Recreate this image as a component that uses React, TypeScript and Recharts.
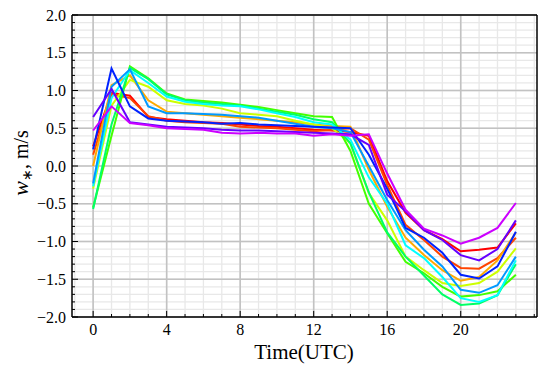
import { LineChart, Line, XAxis, YAxis, CartesianGrid, ReferenceLine, Label } from 'recharts'

const hours = [0, 1, 2, 3, 4, 5, 6, 7, 8, 9, 10, 11, 12, 13, 14, 15, 16, 17, 18, 19, 20, 21, 22, 23]

const seriesNames = ['s1', 's2', 's3', 's4', 's5', 's6', 's7', 's8', 's9', 's10', 's11']

const colors = [
  '#ff0000',
  '#ff4400',
  '#ffaa00',
  '#ccff00',
  '#44ff00',
  '#00ff66',
  '#00ffff',
  '#0099ff',
  '#0022ff',
  '#6600ff',
  '#cc00ff',
]

const s1 = [0.26, 0.97, 0.93, 0.65, 0.62, 0.6, 0.58, 0.57, 0.55, 0.53, 0.52, 0.5, 0.48, 0.47, 0.45, 0.4, -0.2, -0.62, -0.85, -0.97, -1.13, -1.11, -1.08, -0.76]
const s2 = [0.15, 0.95, 0.9, 0.66, 0.6, 0.58, 0.57, 0.56, 0.52, 0.51, 0.5, 0.48, 0.46, 0.48, 0.5, 0.35, -0.25, -0.78, -0.98, -1.2, -1.35, -1.36, -1.22, -0.95]
const s3 = [0.0, 1.07, 1.2, 0.87, 0.72, 0.7, 0.68, 0.66, 0.64, 0.62, 0.6, 0.58, 0.55, 0.53, 0.52, -0.05, -0.54, -0.95, -1.18, -1.38, -1.52, -1.47, -1.25, -0.88]
const s4 = [-0.3, 0.8, 1.14, 1.05, 0.87, 0.82, 0.8, 0.76, 0.7, 0.68, 0.66, 0.6, 0.55, 0.5, 0.3, -0.36, -0.72, -1.2, -1.38, -1.55, -1.59, -1.55, -1.4, -1.09]
const s5 = [-0.55, 0.4, 1.32, 1.16, 0.96, 0.88, 0.86, 0.84, 0.81, 0.78, 0.74, 0.7, 0.66, 0.65, 0.2, -0.5, -0.89, -1.27, -1.42, -1.6, -1.73, -1.71, -1.66, -1.44]
const s6 = [-0.57, 0.55, 1.3, 1.15, 0.95, 0.87, 0.84, 0.82, 0.8, 0.76, 0.72, 0.68, 0.62, 0.58, 0.3, -0.35, -0.88, -1.2, -1.45, -1.7, -1.84, -1.82, -1.71, -1.3]
const s7 = [-0.27, 0.9, 1.27, 1.1, 0.92, 0.85, 0.82, 0.8, 0.79, 0.75, 0.7, 0.65, 0.58, 0.55, 0.35, -0.15, -0.5, -1.05, -1.22, -1.47, -1.75, -1.8, -1.71, -1.25]
const s8 = [-0.23, 1.05, 1.28, 0.79, 0.7, 0.7, 0.69, 0.68, 0.66, 0.64, 0.6, 0.56, 0.52, 0.5, 0.45, 0.0, -0.45, -0.85, -1.11, -1.33, -1.64, -1.68, -1.58, -1.2]
const s9 = [0.22, 1.29, 0.79, 0.63, 0.6, 0.59, 0.58, 0.56, 0.57, 0.55, 0.54, 0.53, 0.52, 0.51, 0.5, 0.15, -0.3, -0.82, -0.95, -1.15, -1.44, -1.49, -1.33, -0.87]
const s10 = [0.65, 1.02, 0.58, 0.55, 0.52, 0.51, 0.5, 0.48, 0.47, 0.47, 0.46, 0.45, 0.44, 0.43, 0.42, 0.28, -0.38, -0.6, -0.85, -0.98, -1.18, -1.25, -1.1, -0.72]
const s11 = [0.47, 0.79, 0.57, 0.54, 0.5, 0.49, 0.48, 0.44, 0.43, 0.44, 0.43, 0.43, 0.4, 0.42, 0.4, 0.42, -0.1, -0.58, -0.83, -0.92, -1.03, -0.95, -0.82, -0.49]

const allSeries = [s1, s2, s3, s4, s5, s6, s7, s8, s9, s10, s11]

const xTicks = [0, 1, 2, 3, 4, 5, 6, 7, 8, 9, 10, 11, 12, 13, 14, 15, 16, 17, 18, 19, 20, 21, 22, 23, 24]
const xMajor = [0, 4, 8, 12, 16, 20]
const yTicks = Array.from({ length: 41 }, (_, i) => Math.round((-2 + i * 0.1) * 10) / 10)
const yMajor = [-2, -1.5, -1, -0.5, 0, 0.5, 1, 1.5, 2]
const xMinorGrid = [-1, ...xTicks]

const data = hours.map((h, i) => {
  const row: any = { h }
  seriesNames.forEach((n, k) => {
    row[n] = allSeries[k][i]
  })
  return row
})

const FONT = '"Liberation Serif", "Times New Roman", serif'
const textStyle = { fontFamily: FONT }

const renderXTick = ({ x, y, payload }: any) => {
  const major = xMajor.includes(payload.value)
  return (
    <g key={`xt-${payload.value}`}>
      <line x1={x} x2={x} y1={y} y2={y - (major ? 6 : 3)} stroke="#000" strokeWidth={1} />
      {major && (
        <text x={x} y={y + 18} textAnchor="middle" fontSize={16} fontFamily={FONT} style={textStyle} fill="#000">
          {String(payload.value)}
        </text>
      )}
    </g>
  )
}

const renderYTick = ({ x, y, payload }: any) => {
  const major = Math.round(payload.value * 10) % 5 === 0
  const label = payload.value.toFixed(1).replace('-', '\u2212')
  return (
    <g key={`yt-${payload.value}`}>
      <line x1={x} x2={x + (major ? 6 : 3)} y1={y} y2={y} stroke="#000" strokeWidth={1} />
      {major && (
        <text x={x - 6} y={y + 5.5} textAnchor="end" fontSize={16} fontFamily={FONT} style={textStyle} fill="#000">
          {label}
        </text>
      )}
    </g>
  )
}

export default function App() {
  return (
    <div style={{ position: 'absolute', left: 0, top: 0, width: 547, height: 374, background: '#fff', fontFamily: FONT }}>
      <LineChart width={547} height={374} data={data} margin={{ top: 15, right: 10, left: 10, bottom: 0 }}>
        <CartesianGrid stroke="#e8e8e8" strokeWidth={1.3} horizontalValues={yTicks} verticalValues={xMinorGrid} />
        <CartesianGrid stroke="#c2c2c2" strokeWidth={1.6} horizontalValues={yMajor} verticalValues={xMajor} />
        <XAxis
          type="number"
          dataKey="h"
          domain={[-1.15, 24.15]}
          allowDataOverflow
          ticks={xTicks}
          interval={0}
          tickSize={0}
          tickMargin={0}
          tick={renderXTick}
          height={57}
          axisLine={{ stroke: '#000', strokeWidth: 1.5 }}
        >
          <Label
            content={() => (
              <text x={304} y={359} textAnchor="middle" fontSize={21} style={textStyle} fill="#000">
                Time(UTC)
              </text>
            )}
          />
        </XAxis>
        <YAxis
          type="number"
          domain={[-2, 2]}
          allowDataOverflow
          ticks={yTicks}
          interval={0}
          tickSize={0}
          tickMargin={0}
          tick={renderYTick}
          width={62}
          axisLine={{ stroke: '#000', strokeWidth: 1.5 }}
        >
          <Label
            content={() => (
              <text
                x={28}
                y={163}
                transform="rotate(-90 28 163)"
                textAnchor="middle"
                fontSize={20}
                style={textStyle}
                fill="#000"
              >
                <tspan fontStyle="italic" fontSize={22}>w</tspan>
                <tspan fontSize={14} dy={4}>∗</tspan>
                <tspan dy={-4}>, m/s</tspan>
              </text>
            )}
          />
        </YAxis>
        <ReferenceLine y={2} stroke="#000" strokeWidth={1.5} />
        <ReferenceLine x={24.15} stroke="#000" strokeWidth={1.5} />
        {seriesNames.map((n, k) => (
          <Line
            key={n}
            type="linear"
            dataKey={n}
            stroke={colors[k]}
            strokeWidth={2}
            dot={false}
            isAnimationActive={false}
          />
        ))}
      </LineChart>
    </div>
  )
}
